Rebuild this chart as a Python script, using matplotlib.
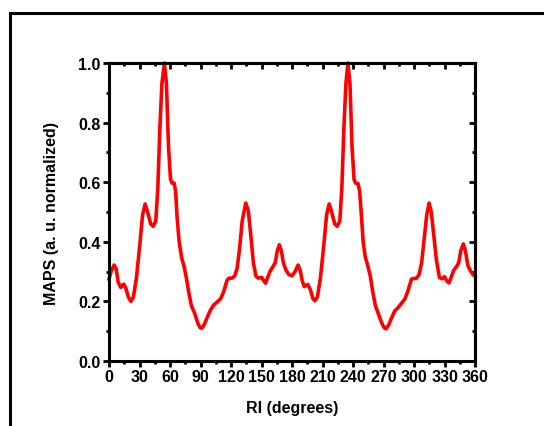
import numpy as np
import matplotlib.pyplot as plt
from matplotlib.lines import Line2D
from matplotlib.ticker import MultipleLocator

plt.rcParams['font.family'] = ['Liberation Sans', 'DejaVu Sans']
plt.rcParams['font.weight'] = 'bold'

# angle (degrees)
angle = [0, 2, 5, 7, 9, 11.5, 14.5, 16.5, 19, 21.5, 24, 27, 30, 33, 35.5, 38, 41,
         43.5, 46, 48, 50, 52, 54.5, 56.5, 58.5, 60.5, 62, 64, 65.5, 67, 69, 71.5,
         74, 76, 78.5, 81, 84.5, 87, 89.5, 91.5, 94, 97, 100, 103, 107, 110, 113,
         116, 118, 121, 123.5, 126, 128.5, 131, 134.5, 137, 139.5, 142, 144.5, 147,
         150, 152, 154, 156, 158.5, 161, 163.5, 165.5, 167.5, 169.5, 171.5, 174,
         177, 180, 183, 186, 188, 190, 192, 195.5, 198, 200.5, 202.5, 205, 208,
         211, 214, 216.5, 219, 222, 224.5, 227, 229, 231, 233, 235, 237, 239, 241,
         242.5, 245, 246.5, 248, 250, 252, 254.5, 257, 259.5, 262, 265, 268, 270.5,
         272.5, 275, 278, 281, 284.5, 288, 291, 294, 297.5, 300, 302.5, 305, 307.5,
         310, 312.5, 314.8, 317, 319.5, 322, 325, 327.5, 330, 332, 334.4, 336.5,
         339, 341.5, 344, 346, 348.5, 350.5, 353, 356, 358, 360]
# normalized MAPS
maps = [0.275, 0.30, 0.322, 0.31, 0.265, 0.247, 0.258, 0.245, 0.215, 0.200, 0.215,
        0.28, 0.38, 0.49, 0.527, 0.50, 0.46, 0.452, 0.47, 0.58, 0.78, 0.93, 1.0,
        0.93, 0.72, 0.61, 0.597, 0.597, 0.57, 0.48, 0.40, 0.345, 0.315, 0.28, 0.23,
        0.186, 0.158, 0.13, 0.112, 0.11, 0.125, 0.15, 0.172, 0.188, 0.2, 0.21,
        0.235, 0.27, 0.278, 0.278, 0.285, 0.31, 0.38, 0.47, 0.53, 0.505, 0.42,
        0.33, 0.285, 0.278, 0.281, 0.27, 0.261, 0.28, 0.302, 0.315, 0.33, 0.37,
        0.39, 0.37, 0.33, 0.305, 0.29, 0.286, 0.30, 0.322, 0.305, 0.27, 0.25,
        0.257, 0.24, 0.21, 0.202, 0.215, 0.28, 0.38, 0.49, 0.527, 0.50, 0.46,
        0.452, 0.47, 0.58, 0.78, 0.93, 1.0, 0.93, 0.72, 0.61, 0.597, 0.595, 0.57,
        0.5, 0.40, 0.35, 0.32, 0.285, 0.23, 0.186, 0.158, 0.13, 0.112, 0.108,
        0.12, 0.145, 0.168, 0.18, 0.195, 0.208, 0.235, 0.275, 0.277, 0.278, 0.29,
        0.33, 0.41, 0.49, 0.53, 0.5, 0.42, 0.34, 0.28, 0.276, 0.283, 0.27, 0.262,
        0.28, 0.305, 0.315, 0.33, 0.37, 0.393, 0.37, 0.32, 0.3, 0.29, 0.284]

fig = plt.figure(figsize=(5.44, 4.27), dpi=100)
ax = fig.add_axes([0.2004, 0.1522, 0.6728, 0.6979])

ax.plot(angle, maps, color='red', lw=2.6, solid_joinstyle='round', clip_on=False)

ax.set_xlim(0, 360)
ax.set_ylim(0, 1.0)
ax.xaxis.set_major_locator(MultipleLocator(30))
ax.xaxis.set_minor_locator(MultipleLocator(15))
ax.yaxis.set_major_locator(MultipleLocator(0.2))
ax.yaxis.set_minor_locator(MultipleLocator(0.1))
ax.yaxis.set_major_formatter(plt.FormatStrFormatter('%.1f'))

for s in ax.spines.values():
    s.set_linewidth(2.2)
ax.tick_params(which='major', direction='out', length=4, width=2, labelsize=11.5, pad=2)
ax.tick_params(which='minor', direction='out', length=2.5, width=2)

# mirror ticks pointing inward on top and right
top = ax.secondary_xaxis('top')
top.xaxis.set_major_locator(MultipleLocator(30))
top.xaxis.set_minor_locator(MultipleLocator(15))
top.tick_params(which='major', direction='in', length=4, width=2, labeltop=False)
top.tick_params(which='minor', direction='in', length=2.5, width=2)
right = ax.secondary_yaxis('right')
right.yaxis.set_major_locator(MultipleLocator(0.2))
right.yaxis.set_minor_locator(MultipleLocator(0.1))
right.tick_params(which='major', direction='in', length=4, width=2, labelright=False)
right.tick_params(which='minor', direction='in', length=2.5, width=2)
for sec in (top, right):
    for s in sec.spines.values():
        s.set_linewidth(2.2)

ax.set_xlabel('RI (degrees)', fontsize=11.5, fontweight='bold', labelpad=11)
ax.set_ylabel('MAPS (a. u. normalized)', fontsize=11.5, fontweight='bold', labelpad=14)

# outer frame, cut by the image edge
x0, y0 = 10 / 544, 1 - 14 / 427
fig.add_artist(Line2D([x0, 1.01], [y0, y0], color='black', lw=2.2, transform=fig.transFigure))
fig.add_artist(Line2D([x0, x0], [y0, -0.01], color='black', lw=2.2, transform=fig.transFigure))

fig.savefig('out.png', dpi=100)
